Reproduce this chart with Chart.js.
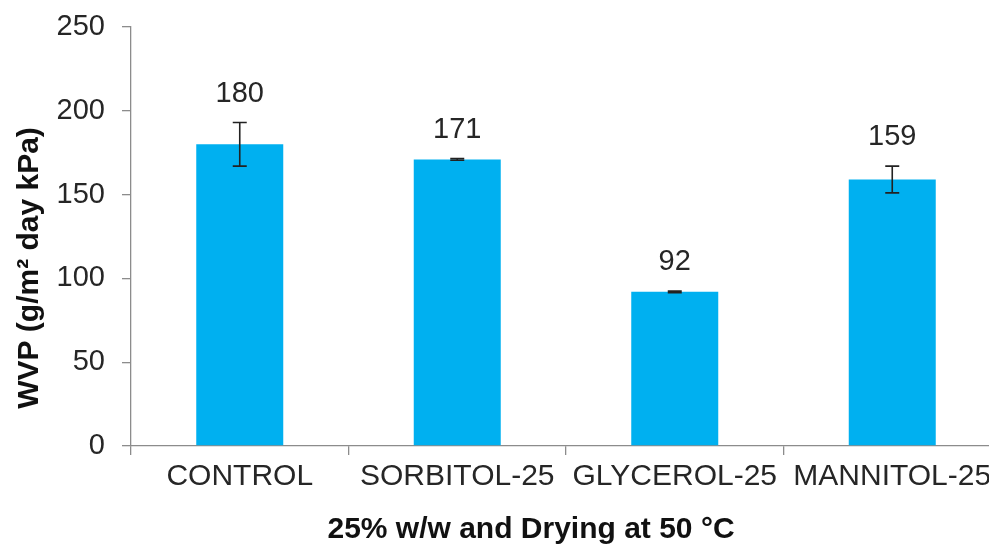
<!DOCTYPE html>
<html>
<head>
<meta charset="utf-8">
<script src="https://cdn.jsdelivr.net/npm/chart.js@4.4.0/dist/chart.umd.min.js"></script>
<style>
html,body{margin:0;padding:0;background:#fff;overflow:hidden;}
#wrap{position:relative;width:1001px;height:544px;}
</style>
</head>
<body>
<div id="wrap"><canvas id="c"></canvas></div>
<script>
const categories = ['CONTROL', 'SORBITOL-25', 'GLYCEROL-25', 'MANNITOL-25'];
const wvp = [180, 171, 92, 159];
const wvpErr = [13, 0.5, 0.5, 8];
const yTicks = [0, 50, 100, 150, 200, 250];
const yTitle = 'WVP (g/m\u00B2 day kPa)';
const xTitle = '25% w/w and Drying at 50 \u00B0C';

const FONT = "'Liberation Sans', Arial, sans-serif";
const AXIS = '#8c8c8c';
const TEXT = '#262626';

const errorBars = {
  id: 'errorBars',
  afterDatasetsDraw(chart) {
    const ctx = chart.ctx;
    const y = chart.scales.y;
    const meta = chart.getDatasetMeta(0);
    ctx.save();
    meta.data.forEach((bar, i) => {
      const v = wvp[i], e = wvpErr[i];
      const top = y.getPixelForValue(v + e);
      const bot = y.getPixelForValue(v - e);
      const cap = 7;
      ctx.strokeStyle = '#222';
      ctx.lineWidth = 1.6;
      ctx.beginPath();
      ctx.moveTo(bar.x, top); ctx.lineTo(bar.x, bot);
      ctx.moveTo(bar.x - cap, top); ctx.lineTo(bar.x + cap, top);
      ctx.moveTo(bar.x - cap, bot); ctx.lineTo(bar.x + cap, bot);
      ctx.stroke();
      ctx.fillStyle = TEXT;
      ctx.font = "29px " + FONT;
      ctx.textAlign = 'center';
      ctx.textBaseline = 'middle';
      ctx.fillText(String(v), bar.x, top - 29);
    });
    ctx.restore();
  }
};

const titles = {
  id: 'titles',
  afterDraw(chart) {
    const ctx = chart.ctx;
    ctx.save();
    ctx.fillStyle = '#111';
    ctx.font = "bold 30px " + FONT;
    ctx.textAlign = 'center';
    ctx.textBaseline = 'middle';
    ctx.fillText(xTitle, 531, 530);
    ctx.translate(30, 268);
    ctx.rotate(-Math.PI / 2);
    ctx.fillText(yTitle, 0, 0);
    ctx.restore();
  }
};

new Chart(document.getElementById('c'), {
  type: 'bar',
  data: {
    labels: categories,
    datasets: [{
      data: wvp,
      backgroundColor: '#00B0F0',
      borderWidth: 0,
      barPercentage: 0.4,
      categoryPercentage: 1.0
    }]
  },
  options: {
    responsive: true,
    maintainAspectRatio: false,
    animation: false,
    devicePixelRatio: 1,
    layout: { padding: { top: 27, right: 0, left: 0, bottom: 0 } },
    plugins: { legend: { display: false }, tooltip: { enabled: false } },
    scales: {
      x: {
        offset: true,
        grid: { display: true, drawOnChartArea: false, offset: true, tickLength: 9, color: AXIS, tickColor: AXIS, lineWidth: 1.3 },
        border: { display: true, color: AXIS, width: 1.3 },
        ticks: { color: TEXT, font: { family: FONT, size: 30 }, padding: 4, maxRotation: 0, autoSkip: false },
        afterFit(s) { s.height = 98; s.paddingLeft = 0; s.paddingRight = 0; }
      },
      y: {
        min: 0, max: 250,
        afterBuildTicks(s) { s.ticks = yTicks.map(v => ({ value: v })); },
        grid: { display: true, drawOnChartArea: false, tickLength: 9, color: AXIS, tickColor: AXIS, lineWidth: 1.3 },
        border: { display: true, color: AXIS, width: 1.3 },
        ticks: { color: TEXT, font: { family: FONT, size: 29 }, padding: 17 },
        afterFit(s) { s.width = 131; s.paddingTop = 0; s.paddingBottom = 0; }
      }
    }
  },
  plugins: [errorBars, titles]
});
</script>
</body>
</html>
